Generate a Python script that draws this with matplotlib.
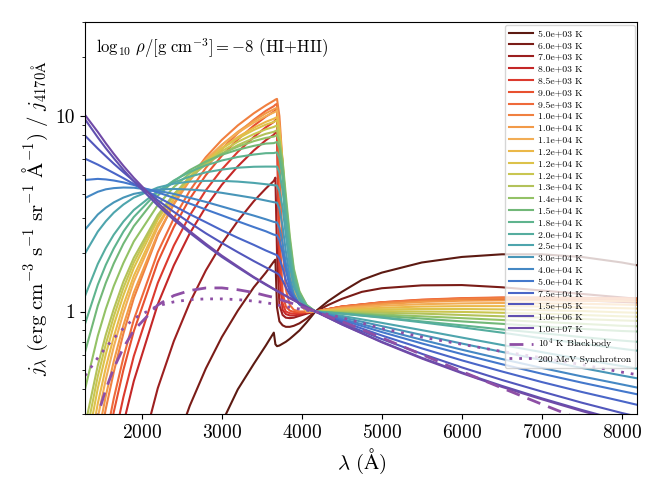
import matplotlib
matplotlib.use('Agg')
import matplotlib.pyplot as plt
import matplotlib.ticker as mticker

plt.rcParams['font.family'] = ['cmr10', 'DejaVu Serif']
plt.rcParams['mathtext.fontset'] = 'cm'
plt.rcParams['axes.formatter.use_mathtext'] = True
plt.rcParams['axes.unicode_minus'] = False

wave = [1290, 1450, 1550, 1650, 1770, 1900, 2200, 2400, 2600, 2800, 3000,
        3200, 3400, 3550, 3650, 3670, 3690,
        3720, 3760, 3800, 3850, 3900, 3970, 4060,
        4170, 4500, 5000, 5500, 6000, 6500, 7000, 7500, 8000, 8200]
# the two coolest curves bend more on the red side, read at a few more points
wave_cool = [1290, 1450, 1550, 1650, 1770, 1900, 2200, 2400, 2600, 2800, 3000,
             3200, 3400, 3550, 3650, 3670, 3690,
             3720, 3760, 3800, 3850, 3900, 3970, 4060,
             4170, 4330, 4500, 4750, 5000, 5500, 6000, 6500, 7000, 7500, 8000, 8200]

# j_lambda / j_4170 for each temperature
j_5000 = [0.001, 0.001, 0.001, 0.001, 0.001, 0.005, 0.02, 0.045, 0.09, 0.17, 0.27,
          0.40, 0.54, 0.67, 0.78, 0.68, 0.665,
          0.67, 0.685, 0.70, 0.725, 0.755, 0.80, 0.88,
          1.0, 1.13, 1.26, 1.45, 1.58, 1.78, 1.90, 1.96, 1.96, 1.90, 1.78, 1.72]
j_6000 = [0.001, 0.002, 0.0036, 0.0074, 0.015, 0.03, 0.104, 0.196, 0.33, 0.511, 0.74,
          1.01, 1.33, 1.58, 1.80, 1.84, 1.05,
          0.89, 0.85, 0.835, 0.835, 0.845, 0.87, 0.92,
          1.0, 1.08, 1.16, 1.26, 1.315, 1.36, 1.365, 1.33, 1.28, 1.23, 1.18, 1.16]
j_7000 = [0.0026, 0.0104, 0.021, 0.04, 0.076, 0.138, 0.406, 0.705, 1.11, 1.62, 2.22,
          2.90, 3.66, 4.25, 4.65, 4.83, 2.0,
          1.08, 0.96, 0.93, 0.925, 0.93, 0.95, 0.975,
          1.0, 1.05, 1.10, 1.13, 1.15, 1.155, 1.15, 1.14, 1.12, 1.11]
j_8000 = [0.015, 0.05, 0.091, 0.154, 0.267, 0.441, 1.09, 1.72, 2.51, 3.42, 4.44,
          5.52, 6.65, 7.50, 8.0, 8.2, 8.3,
          1.55, 1.02, 0.97, 0.955, 0.955, 0.965, 0.985,
          1.0, 1.055, 1.105, 1.135, 1.15, 1.16, 1.16, 1.155, 1.145, 1.14]
j_8500 = [0.023, 0.073, 0.131, 0.217, 0.365, 0.591, 1.40, 2.17, 3.10, 4.16, 5.32,
          6.54, 7.79, 8.73, 9.3, 9.5, 9.6,
          1.85, 1.10, 1.0, 0.98, 0.975, 0.98, 0.99,
          1.0, 1.06, 1.11, 1.14, 1.16, 1.17, 1.17, 1.165, 1.16, 1.155]
j_9000 = [0.037, 0.11, 0.19, 0.307, 0.503, 0.793, 1.79, 2.70, 3.77, 4.97, 6.25,
          7.57, 8.90, 9.9, 10.5, 10.7, 10.8,
          2.6, 1.25, 1.06, 1.01, 0.995, 0.99, 0.995,
          1.0, 1.06, 1.115, 1.145, 1.165, 1.175, 1.175, 1.17, 1.165, 1.16]
j_9500 = [0.045, 0.131, 0.225, 0.36, 0.582, 0.907, 2.01, 2.99, 4.14, 5.42, 6.77,
          8.15, 9.54, 10.6, 11.2, 11.4, 11.5,
          6.0, 2.1, 1.3, 1.08, 1.02, 1.0, 1.0,
          1.0, 1.06, 1.115, 1.15, 1.17, 1.18, 1.18, 1.175, 1.17, 1.165]
j_10000 = [0.071, 0.191, 0.318, 0.491, 0.772, 1.17, 2.45, 3.55, 4.79, 6.14, 7.53,
           8.93, 10.3, 11.3, 11.95, 12.1, 12.2,
           9.96, 5.71, 3.02, 1.79, 1.34, 1.11, 1.0,
           1.0, 1.055, 1.11, 1.14, 1.16, 1.17, 1.17, 1.165, 1.16, 1.155]
j_10500 = [0.09, 0.23, 0.37, 0.558, 0.851, 1.25, 2.50, 3.53, 4.67, 5.87, 7.09,
           8.28, 9.44, 10.3, 10.8, 10.9, 11.0,
           9.0, 5.21, 2.81, 1.70, 1.30, 1.10, 1.0,
           1.0, 1.045, 1.09, 1.12, 1.135, 1.14, 1.14, 1.135, 1.13, 1.125]
j_11000 = [0.119, 0.287, 0.45, 0.662, 0.985, 1.42, 2.70, 3.73, 4.83, 5.97, 7.10,
           8.19, 9.23, 9.96, 10.4, 10.5, 10.6,
           8.68, 5.04, 2.74, 1.68, 1.29, 1.10, 1.0,
           1.0, 1.035, 1.07, 1.09, 1.10, 1.105, 1.10, 1.095, 1.085, 1.08]
j_11500 = [0.147, 0.339, 0.517, 0.744, 1.08, 1.52, 2.79, 3.76, 4.79, 5.82, 6.83,
           7.79, 8.69, 9.31, 9.66, 9.76, 9.85,
           8.53, 5.88, 3.50, 2.08, 1.46, 1.17, 1.04,
           1.0, 1.025, 1.045, 1.06, 1.065, 1.065, 1.06, 1.05, 1.04, 1.035]
j_12000 = [0.184, 0.405, 0.605, 0.853, 1.21, 1.67, 2.95, 3.91, 4.89, 5.86, 6.79,
           7.66, 8.46, 9.01, 9.3, 9.4, 9.48,
           8.21, 5.68, 3.40, 2.04, 1.44, 1.17, 1.04,
           1.0, 1.015, 1.025, 1.03, 1.03, 1.025, 1.015, 1.005, 0.99, 0.985]
j_12500 = [0.22, 0.467, 0.682, 0.944, 1.32, 1.78, 3.04, 3.95, 4.86, 5.75, 6.59,
           7.36, 8.06, 8.53, 8.77, 8.85, 8.93,
           7.75, 5.38, 3.24, 1.97, 1.42, 1.16, 1.04,
           1.0, 1.005, 1.005, 1.0, 0.995, 0.985, 0.975, 0.96, 0.945, 0.94]
j_13000 = [0.26, 0.53, 0.76, 1.03, 1.42, 1.88, 3.11, 3.97, 4.83, 5.64, 6.40,
           7.08, 7.69, 8.09, 8.28, 8.36, 8.43,
           7.32, 5.10, 3.10, 1.91, 1.39, 1.15, 1.038,
           1.0, 0.995, 0.985, 0.975, 0.96, 0.945, 0.93, 0.915, 0.90, 0.895]
j_14000 = [0.40, 0.751, 1.03, 1.35, 1.77, 2.28, 3.50, 4.32, 5.08, 5.79, 6.41,
           6.95, 7.42, 7.71, 7.83, 7.9, 7.95,
           7.40, 5.88, 3.95, 2.43, 1.66, 1.27, 1.08,
           1.0, 0.985, 0.965, 0.945, 0.925, 0.905, 0.885, 0.865, 0.845, 0.84]
j_15000 = [0.62, 1.07, 1.40, 1.76, 2.22, 2.73, 3.91, 4.63, 5.28, 5.84, 6.32,
           6.71, 7.02, 7.21, 7.25, 7.3, 7.35,
           6.85, 5.46, 3.70, 2.31, 1.61, 1.25, 1.08,
           1.0, 0.98, 0.95, 0.92, 0.89, 0.865, 0.84, 0.815, 0.795, 0.79]
j_18000 = [0.863, 1.37, 1.73, 2.10, 2.56, 3.04, 4.08, 4.67, 5.17, 5.58, 5.91,
           6.16, 6.34, 6.44, 6.45, 6.48, 6.5,
           6.06, 4.87, 3.34, 2.14, 1.53, 1.22, 1.07,
           1.0, 0.975, 0.935, 0.89, 0.85, 0.81, 0.775, 0.74, 0.71, 0.70]
j_20000 = [1.20, 1.75, 2.11, 2.47, 2.88, 3.30, 4.13, 4.56, 4.89, 5.14, 5.31,
           5.43, 5.49, 5.50, 5.5, 5.5, 5.5,
           5.14, 4.16, 2.91, 1.92, 1.42, 1.17, 1.05,
           1.0, 0.975, 0.93, 0.88, 0.83, 0.78, 0.73, 0.685, 0.645, 0.63]
j_25000 = [1.98, 2.56, 2.89, 3.20, 3.52, 3.82, 4.30, 4.50, 4.61, 4.65, 4.65,
           4.61, 4.54, 4.47, 4.42, 4.41, 4.4,
           4.13, 3.40, 2.46, 1.72, 1.34, 1.15, 1.05,
           1.0, 0.95, 0.875, 0.803, 0.736, 0.675, 0.62, 0.57, 0.526, 0.51]
j_30000 = [2.62, 3.13, 3.39, 3.61, 3.82, 3.99, 4.20, 4.23, 4.20, 4.14, 4.04,
           3.92, 3.80, 3.69, 3.62, 3.61, 3.6,
           3.35, 2.72, 2.04, 1.49, 1.23, 1.09, 1.022,
           1.0, 0.934, 0.842, 0.759, 0.686, 0.622, 0.565, 0.515, 0.471, 0.455]
j_40000 = [3.80, 4.09, 4.21, 4.27, 4.30, 4.29, 4.14, 3.99, 3.81, 3.63, 3.44,
           3.26, 3.09, 2.96, 2.87, 2.86, 2.85,
           2.68, 2.24, 1.77, 1.39, 1.20, 1.09, 1.031,
           1.0, 0.917, 0.81, 0.717, 0.638, 0.572, 0.515, 0.466, 0.424, 0.408]
j_50000 = [4.70, 4.76, 4.73, 4.67, 4.57, 4.43, 4.06, 3.81, 3.56, 3.32, 3.10,
           2.89, 2.70, 2.57, 2.47, 2.46, 2.45,
           2.32, 1.99, 1.63, 1.33, 1.19, 1.09, 1.035,
           1.0, 0.905, 0.785, 0.687, 0.606, 0.538, 0.481, 0.433, 0.392, 0.377]
j_75000 = [6.04, 5.63, 5.36, 5.10, 4.80, 4.48, 3.84, 3.47, 3.14, 2.86, 2.60,
           2.38, 2.19, 2.05, 1.97, 1.955, 1.94,
           1.865, 1.67, 1.45, 1.27, 1.17, 1.095, 1.042,
           1.0, 0.889, 0.754, 0.648, 0.563, 0.494, 0.436, 0.388, 0.348, 0.333]
j_150000 = [7.92, 6.80, 6.22, 5.69, 5.15, 4.64, 3.70, 3.23, 2.84, 2.51, 2.24,
            2.01, 1.81, 1.68, 1.60, 1.585, 1.57,
            1.535, 1.44, 1.33, 1.22, 1.16, 1.10, 1.048,
            1.0, 0.873, 0.723, 0.608, 0.518, 0.447, 0.39, 0.342, 0.303, 0.29]
j_1e6 = [9.6, 7.75, 6.83, 6.07, 5.30, 4.62, 3.48, 2.94, 2.52, 2.18, 1.90,
         1.68, 1.49, 1.37, 1.299, 1.285, 1.271,
         1.252, 1.226, 1.20, 1.17, 1.141, 1.101, 1.054,
         1.0, 0.861, 0.70, 0.58, 0.488, 0.417, 0.36, 0.314, 0.276, 0.263]
j_1e7 = [10.1, 8.27, 7.24, 6.39, 5.55, 4.82, 3.59, 3.02, 2.57, 2.22, 1.93,
         1.70, 1.50, 1.38, 1.305, 1.291, 1.277,
         1.257, 1.23, 1.204, 1.173, 1.143, 1.103, 1.055,
         1.0, 0.859, 0.696, 0.575, 0.484, 0.412, 0.356, 0.31, 0.273, 0.26]

blackbody = [0.154, 0.295, 0.40, 0.513, 0.653, 0.80, 1.08, 1.206, 1.28, 1.319, 1.32,
             1.292, 1.25, 1.206, 1.18, 1.17, 1.165,
             1.155, 1.14, 1.127, 1.11, 1.093, 1.065, 1.035,
             1.0, 0.89, 0.734, 0.603, 0.494, 0.407, 0.336, 0.279, 0.235, 0.22]
synchrotron = [0.47, 0.58, 0.655, 0.73, 0.82, 0.92, 1.07, 1.12, 1.15, 1.16, 1.16,
               1.15, 1.13, 1.11, 1.09, 1.085, 1.08,
               1.075, 1.07, 1.06, 1.05, 1.04, 1.03, 1.015,
               1.0, 0.93, 0.82, 0.74, 0.68, 0.625, 0.58, 0.535, 0.49, 0.475]

labels = ['5.0e+03 K', '6.0e+03 K', '7.0e+03 K', '8.0e+03 K', '8.5e+03 K',
          '9.0e+03 K', '9.5e+03 K', '1.0e+04 K', '1.0e+04 K', '1.1e+04 K',
          '1.2e+04 K', '1.2e+04 K', '1.2e+04 K', '1.3e+04 K', '1.4e+04 K',
          '1.5e+04 K', '1.8e+04 K', '2.0e+04 K', '2.5e+04 K', '3.0e+04 K',
          '4.0e+04 K', '5.0e+04 K', '7.5e+04 K', '1.5e+05 K', '1.0e+06 K',
          '1.0e+07 K']

spectra = [j_5000, j_6000, j_7000, j_8000, j_8500, j_9000, j_9500, j_10000,
           j_10500, j_11000, j_11500, j_12000, j_12500, j_13000, j_14000,
           j_15000, j_18000, j_20000, j_25000, j_30000, j_40000, j_50000,
           j_75000, j_150000, j_1e6, j_1e7]

colors = ['#5c1a12', '#7a1c17', '#9c1f1f', '#c42727', '#dc3a2e', '#e8512f',
          '#ef6a3a', '#f08040', '#f29a48', '#f2ad55', '#ebb848', '#dcc24a',
          '#c9c650', '#b3c25a', '#93c266', '#72b878', '#5fb48e', '#55ad9f',
          '#4ea5ad', '#4896b8', '#4588c4', '#4478cc', '#4a66c8', '#5257bc',
          '#6150b0', '#704aa8']

fig = plt.figure(figsize=(6.64, 4.98), dpi=100)
ax = fig.add_axes([0.128, 0.169, 0.832, 0.786])

for spec, lab, col in zip(spectra, labels, colors):
    x = wave_cool if len(spec) == len(wave_cool) else wave
    ax.plot(x, spec, color=col, lw=1.5, label=lab)

ax.plot(wave, blackbody, color='#8e4fa5', lw=2.0, ls=(0, (5, 3)),
        label=r'$10^4$ K Blackbody')
ax.plot(wave, synchrotron, color='#8e4fa5', lw=2.0, ls=(0, (1, 2.5)),
        label='200 MeV Synchrotron')

ax.set_yscale('log')
ax.set_xlim(1290, 8195)
ax.set_ylim(0.3, 30)
ax.yaxis.set_major_formatter(mticker.FuncFormatter(lambda v, p: f'{v:g}'))
ax.yaxis.set_minor_formatter(mticker.NullFormatter())
ax.tick_params(axis='both', labelsize=14)

ax.set_xlabel(r'$\lambda\ (\mathrm{\AA})$', fontsize=15)
ax.set_ylabel(r'$j_\lambda\ (\mathrm{erg\ cm^{-3}\ s^{-1}\ sr^{-1}\ \AA^{-1}})\ /\ j_{4170\mathrm{\AA}}$',
              fontsize=15)
ax.text(0.02, 0.965, r'$\log_{10}\,\rho/[\mathrm{g\ cm^{-3}}] = -8$ (HI+HII)',
        transform=ax.transAxes, ha='left', va='top', fontsize=12)

ax.legend(loc='upper right', fontsize=7, handlelength=2.4, handletextpad=0.5,
          labelspacing=0.31, borderaxespad=0.3, framealpha=0.8)

fig.savefig('out.png', dpi=100)
